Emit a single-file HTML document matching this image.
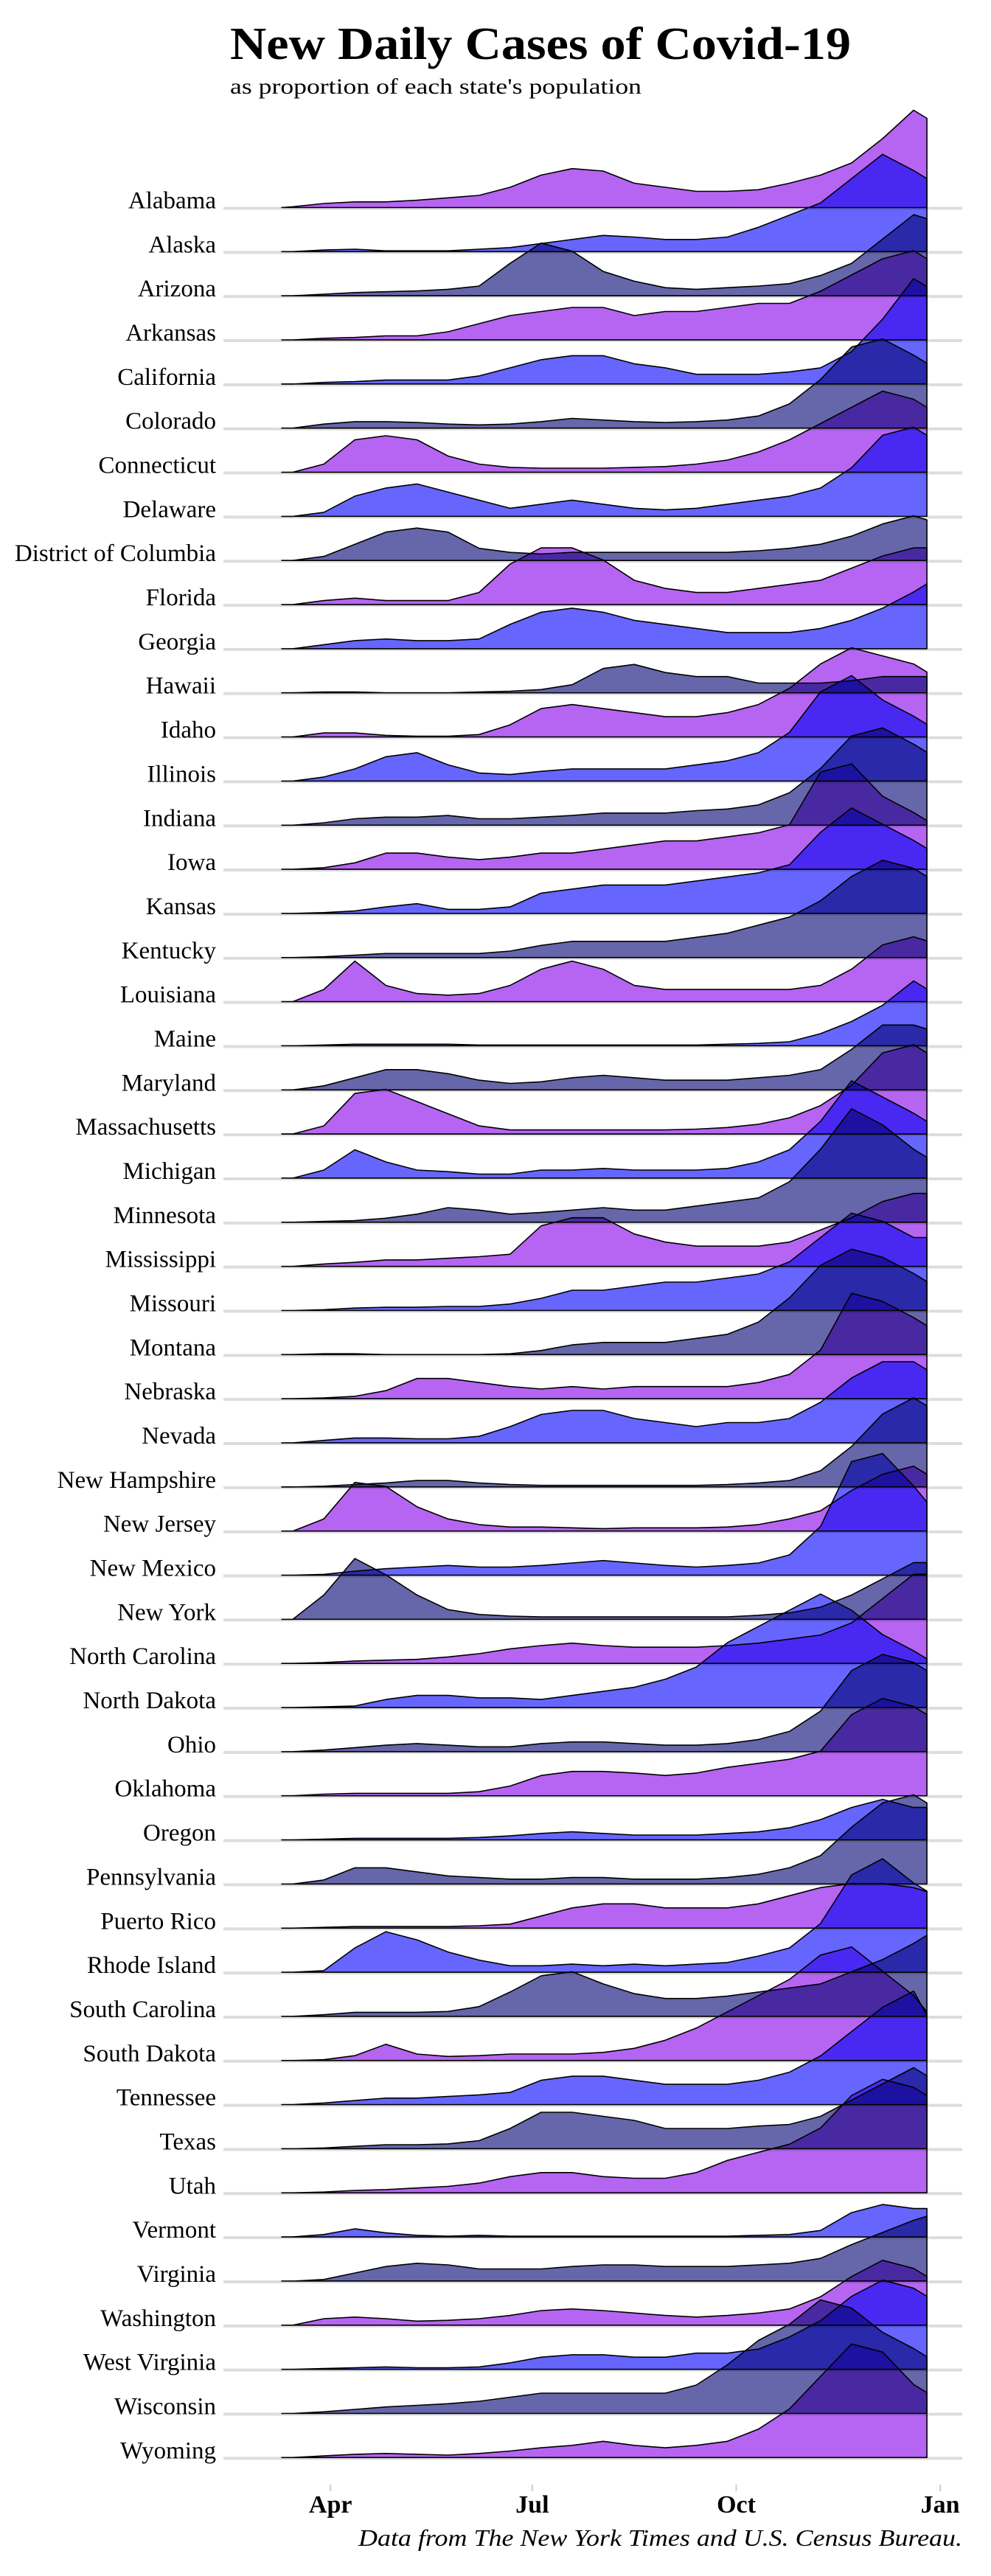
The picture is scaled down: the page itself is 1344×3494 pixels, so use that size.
<!DOCTYPE html>
<html><head><meta charset="utf-8"><title>New Daily Cases of Covid-19</title>
<style>
html,body{margin:0;padding:0;background:#fff;}
svg{display:block;}
.fill{mix-blend-mode:multiply;}
</style></head>
<body>
<svg id="chart" width="1344" height="3494" viewBox="0 0 1344 3494" xmlns="http://www.w3.org/2000/svg">
<text x="312" y="80" font-family="Liberation Serif, serif" font-weight="bold" font-size="62" textLength="842" lengthAdjust="spacingAndGlyphs">New Daily Cases of Covid-19</text>
<text x="312" y="127" font-family="Liberation Serif, serif" font-size="30" textLength="558" lengthAdjust="spacingAndGlyphs">as proportion of each state's population</text>
<g id="rows"></g>
<g id="xaxis"></g>
<text x="1305" y="3453" text-anchor="end" font-family="Liberation Serif, serif" font-style="italic" font-size="32" textLength="819" lengthAdjust="spacingAndGlyphs">Data from The New York Times and U.S. Census Bureau.</text>
</svg>
<script>
const states = ["Alabama","Alaska","Arizona","Arkansas","California","Colorado","Connecticut","Delaware","District of Columbia","Florida","Georgia","Hawaii","Idaho","Illinois","Indiana","Iowa","Kansas","Kentucky","Louisiana","Maine","Maryland","Massachusetts","Michigan","Minnesota","Mississippi","Missouri","Montana","Nebraska","Nevada","New Hampshire","New Jersey","New Mexico","New York","North Carolina","North Dakota","Ohio","Oklahoma","Oregon","Pennsylvania","Puerto Rico","Rhode Island","South Carolina","South Dakota","Tennessee","Texas","Utah","Vermont","Virginia","Washington","West Virginia","Wisconsin","Wyoming"];
// days since Mar 1, 2020
const sampleDays = [9,14,28,42,56,70,84,98,112,126,140,154,168,182,196,210,224,238,252,266,280,294,300];
const tickLabels = ["Apr","Jul","Oct","Jan"];
const tickDays = [31,122,214,306];
const seriesValues = [
[0,1,5,7,7,9,12,15,25,40,48,45,30,25,20,20,22,30,40,55,85,120,110],
[0,0,2,3,1,1,1,3,5,10,15,20,18,15,15,18,30,45,60,90,120,100,90],
[0,0,2,4,5,6,8,12,40,65,55,30,18,10,8,10,12,15,25,40,70,100,95],
[0,0,2,3,5,5,10,20,30,35,40,40,30,35,35,40,45,45,60,80,100,110,100],
[0,0,2,3,5,5,5,10,20,30,35,35,25,20,12,12,12,15,20,40,80,130,120],
[0,0,5,8,8,7,5,4,5,8,12,10,8,7,8,10,15,30,60,100,110,90,80],
[0,0,10,40,45,40,20,10,6,5,5,5,6,7,10,15,25,40,60,80,100,90,80],
[0,0,5,25,35,40,30,20,10,15,20,15,10,8,10,15,20,25,35,60,100,110,100],
[0,0,5,20,35,40,35,15,10,8,10,10,10,10,10,10,12,15,20,30,45,55,50],
[0,0,5,8,5,5,5,15,50,70,70,55,30,20,15,15,20,25,30,45,60,70,70],
[0,0,5,10,12,10,10,12,30,45,50,45,35,30,25,20,20,20,25,35,50,70,80],
[0,0,1,1,0,0,0,1,2,4,10,30,35,25,20,20,12,12,12,15,20,20,20],
[0,0,5,5,2,1,1,3,15,35,40,35,30,25,25,30,40,60,90,110,100,90,80],
[0,0,5,15,30,35,20,10,8,12,15,15,15,15,20,25,35,60,110,130,100,80,70],
[0,0,3,8,10,10,12,8,8,10,12,15,15,15,18,20,25,40,70,110,120,100,90],
[0,0,2,8,20,20,15,12,15,20,20,25,30,35,35,40,45,55,120,130,90,70,60],
[0,0,1,3,8,12,5,5,8,25,30,35,35,35,40,45,50,60,100,130,110,90,80],
[0,0,1,3,5,5,5,5,8,15,20,20,20,20,25,30,40,50,70,100,120,110,100],
[0,0,15,50,20,10,8,10,20,40,50,40,20,15,15,15,15,15,20,40,70,80,75],
[0,0,1,2,2,2,2,1,1,1,1,1,1,1,1,2,3,5,15,30,50,80,70],
[0,0,5,15,25,25,20,12,8,10,15,18,15,12,12,12,15,18,25,50,80,80,75],
[0,0,10,50,55,40,25,10,5,5,5,5,5,5,6,8,12,20,35,60,100,110,100],
[0,0,10,35,20,10,8,5,5,10,10,12,10,10,10,12,20,35,70,120,100,80,70],
[0,0,1,2,5,10,18,15,10,12,15,18,15,15,20,25,30,50,90,140,120,90,80],
[0,0,3,5,8,8,10,12,15,50,60,60,40,30,25,25,25,30,45,60,80,90,90],
[0,0,1,3,4,4,5,5,8,15,25,25,30,35,35,40,45,60,90,120,110,90,90],
[0,0,1,1,0,0,0,0,1,5,12,15,15,15,20,25,40,70,110,130,120,100,90],
[0,0,1,3,10,25,25,20,15,12,15,12,15,15,15,15,20,30,60,130,120,100,90],
[0,0,3,6,6,5,5,8,20,35,40,40,30,25,20,25,25,30,50,80,100,100,90],
[0,0,1,3,5,8,8,5,3,2,2,2,2,2,2,3,5,8,20,50,90,110,100],
[0,0,15,60,55,30,15,8,5,5,4,3,4,4,4,5,8,15,25,50,70,80,70],
[0,0,1,5,8,10,12,10,10,12,15,18,15,12,10,12,15,25,60,140,150,110,90],
[0,0,30,75,55,30,12,6,4,3,3,3,3,3,3,3,5,8,15,30,50,70,70],
[0,0,1,3,4,5,8,12,18,22,25,22,20,20,20,22,25,30,35,50,80,110,110],
[0,0,1,2,10,15,15,12,12,10,15,20,25,35,50,80,100,120,140,120,90,70,60],
[0,0,2,5,8,10,8,6,6,10,12,12,10,8,8,10,15,25,50,100,120,110,100],
[0,0,2,3,3,3,3,5,12,25,30,30,28,25,28,35,40,45,55,100,120,110,100],
[0,0,1,2,2,2,2,3,5,8,10,8,6,6,6,8,10,15,25,40,50,40,40],
[0,0,5,20,20,15,10,8,6,6,8,8,6,6,6,8,12,20,35,70,100,110,100],
[0,0,1,2,2,2,2,3,5,15,25,30,30,25,25,25,30,40,50,55,55,50,45],
[0,0,2,30,50,40,25,15,8,8,10,8,10,8,10,12,20,30,60,120,140,110,100],
[0,0,2,5,5,5,6,12,30,50,55,40,28,22,22,25,30,35,40,55,70,90,100],
[0,0,1,6,20,8,5,6,8,8,8,10,15,25,40,60,80,100,130,140,110,80,60],
[0,0,2,5,8,8,10,12,15,30,35,35,30,25,25,25,30,40,60,90,120,140,110],
[0,0,1,3,5,5,6,10,25,45,45,40,35,25,25,25,28,30,40,60,80,100,90],
[0,0,1,3,4,6,8,12,20,25,25,20,18,18,25,40,50,60,80,120,140,130,120],
[0,0,3,10,5,2,1,2,1,1,1,1,1,1,1,1,2,3,8,30,40,35,35],
[0,0,2,10,18,22,20,15,15,15,18,20,20,18,18,18,20,22,28,45,60,75,80],
[0,0,8,10,8,5,6,8,12,18,20,18,15,12,10,12,15,20,35,60,80,70,60],
[0,0,1,2,3,2,2,3,8,15,18,18,15,15,20,20,25,40,60,90,110,100,90],
[0,0,2,5,8,10,12,15,20,25,25,25,25,25,35,60,90,110,140,130,100,80,70],
[0,0,2,4,5,4,3,5,8,12,15,20,15,12,15,20,35,60,100,140,130,90,80]
];
const palette = ["#b565f2","#6666ff","#6666aa"];
const NS = "http://www.w3.org/2000/svg";
const xScale = d => 355 + d * 3.007;
const rowY = i => 281.5 + i * 59.84;
const yScale = v => v * 1.1;
const rows = document.getElementById("rows");
const slug = s => s.toLowerCase().replace(/[^a-z]+/g, "-");

states.forEach((s, i) => {
  const base = rowY(i);
  const g = document.createElementNS(NS, "line");
  g.setAttribute("x1", 303); g.setAttribute("x2", 1305);
  g.setAttribute("y1", base + 1); g.setAttribute("y2", base + 1);
  g.setAttribute("stroke", "#dddddd"); g.setAttribute("stroke-width", 4);
  
  
  rows.appendChild(g);
  const t = document.createElementNS(NS, "text");
  t.setAttribute("x", 293); t.setAttribute("y", base + 1);
  t.setAttribute("text-anchor", "end");
  t.setAttribute("font-family", "Liberation Serif, serif");
  t.setAttribute("font-size", 33);
  t.textContent = s;
  
  
  rows.appendChild(t);
});
states.forEach((s, i) => {
  const base = rowY(i);
  const vals = seriesValues[i];
  let d = "M" + xScale(sampleDays[0]) + "," + base;
  vals.forEach((v, k) => { d += " L" + xScale(sampleDays[k]).toFixed(1) + "," + (base - yScale(v)).toFixed(1); });
  d += " L" + xScale(sampleDays[sampleDays.length - 1]).toFixed(1) + "," + base + " Z";
  const p = document.createElementNS(NS, "path");
  p.setAttribute("d", d);
  p.setAttribute("fill", palette[i % 3]);
  p.setAttribute("stroke", "#000");
  p.setAttribute("stroke-width", 1.6);
  p.setAttribute("stroke-linejoin", "round");
  p.setAttribute("class", "fill");
  
  
  rows.appendChild(p);
});
const xa = document.getElementById("xaxis");
tickDays.forEach((td, k) => {
  const x = xScale(td);
  const l = document.createElementNS(NS, "line");
  l.setAttribute("x1", x); l.setAttribute("x2", x);
  l.setAttribute("y1", 3370); l.setAttribute("y2", 3379);
  l.setAttribute("stroke", "#cccccc"); l.setAttribute("stroke-width", 2);
  
  
  xa.appendChild(l);
  const t = document.createElementNS(NS, "text");
  t.setAttribute("x", x); t.setAttribute("y", 3408);
  t.setAttribute("text-anchor", "middle");
  t.setAttribute("font-family", "Liberation Serif, serif");
  t.setAttribute("font-weight", "bold");
  t.setAttribute("font-size", 34);
  t.textContent = tickLabels[k];
  
  
  xa.appendChild(t);
});
</script>
</body></html>
